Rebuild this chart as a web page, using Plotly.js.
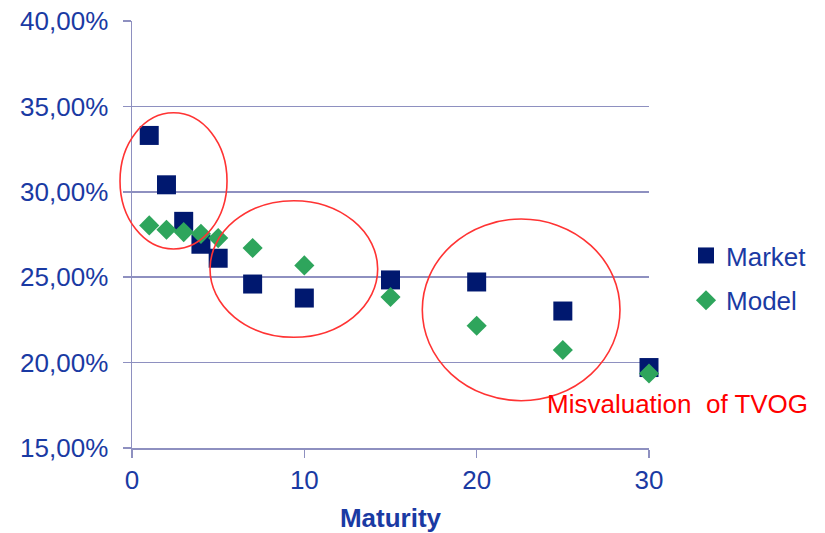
<!DOCTYPE html>
<html>
<head>
<meta charset="utf-8">
<script src="https://cdn.plot.ly/plotly-3.0.1.min.js"></script>
<style>
  html, body { margin: 0; padding: 0; background: #ffffff; }
  #chart { width: 825px; height: 533px; }
</style>
</head>
<body>
<div id="chart"></div>
<script>
// Implied volatility by maturity (years), in percent
const maturities = [1, 2, 3, 4, 5, 7, 10, 15, 20, 25, 30];
const marketVol = [33.30, 30.41, 28.27, 26.93, 26.11, 24.60, 23.78, 24.84, 24.72, 23.02, 19.71];
const modelVol  = [28.03, 27.78, 27.64, 27.54, 27.29, 26.71, 25.69, 23.84, 22.16, 20.74, 19.36];

const yTicks = [15, 20, 25, 30, 35, 40];
const yTickLabels = ['15,00%', '20,00%', '25,00%', '30,00%', '35,00%', '40,00%'];
const xTicks = [0, 10, 20, 30];

const labelBlue = '#1a3aa3';
const gridColor = '#8e90c0';
const fontFamily = 'Arial, "Liberation Sans", sans-serif';

const traces = [
  {
    type: 'scatter', mode: 'markers', name: 'Market',
    x: maturities, y: marketVol,
    legendgroup: 'a', cliponaxis: false,
    marker: { symbol: 'square', size: 19, color: '#00186f', line: { width: 0 } }
  },
  {
    type: 'scatter', mode: 'markers', name: 'Model',
    x: maturities, y: modelVol,
    legendgroup: 'b', cliponaxis: false,
    marker: { symbol: 'diamond', size: 15.5, color: '#2ea55c', line: { width: 0 } }
  }
];

// Highlighted regions where the model misprices the options
const ringStyle = { color: '#ff3333', width: 1.6 };
const shapes = [
  { type: 'circle', xref: 'paper', yref: 'paper', x0: -0.0232, x1: 0.1838, y0: 0.466, y1: 0.785, line: ringStyle },
  { type: 'circle', xref: 'paper', yref: 'paper', x0: 0.1509, x1: 0.4752, y0: 0.2593, y1: 0.5792, line: ringStyle },
  { type: 'circle', xref: 'paper', yref: 'paper', x0: 0.5615, x1: 0.9439, y0: 0.1108, y1: 0.5363, line: ringStyle }
];

const layout = {
  width: 825, height: 533,
  margin: { l: 132, r: 176, t: 21, b: 85 },
  paper_bgcolor: '#ffffff', plot_bgcolor: '#ffffff',
  font: { family: fontFamily, size: 26, color: labelBlue },
  showlegend: true,
  legend: {
    x: 1.0716, xanchor: 'left', y: 0.398, yanchor: 'middle',
    font: { family: fontFamily, size: 26, color: labelBlue },
    traceorder: 'grouped', tracegroupgap: 8,
    bgcolor: 'rgba(0,0,0,0)', borderwidth: 0
  },
  xaxis: {
    range: [0, 30], tickvals: xTicks, ticktext: xTicks.map(String),
    showgrid: false, zeroline: false,
    showline: true, linecolor: gridColor, linewidth: 1.5,
    ticks: 'outside', ticklen: 8, tickcolor: gridColor, tickwidth: 1.5,
    tickfont: { family: fontFamily, size: 26, color: labelBlue },
    title: { text: '<b>Maturity</b>', font: { family: fontFamily, size: 26, color: labelBlue }, standoff: 15 }
  },
  yaxis: {
    range: [15, 40], tickvals: yTicks, ticktext: yTickLabels,
    showgrid: true, gridcolor: gridColor, gridwidth: 1.5,
    zeroline: false,
    showline: true, linecolor: gridColor, linewidth: 1.5,
    ticks: 'outside', ticklen: 8, tickcolor: gridColor, tickwidth: 1.5,
    ticklabelstandoff: 9,
    tickfont: { family: fontFamily, size: 26, color: labelBlue }
  },
  shapes: shapes,
  annotations: [
    {
      xref: 'paper', yref: 'paper', x: 0.799, y: 0.103,
      xanchor: 'left', yanchor: 'middle', showarrow: false,
      text: 'Misvaluation\u00a0 of TVOG',
      font: { family: fontFamily, size: 26, color: '#ff0000' }
    }
  ]
};

Plotly.newPlot('chart', traces, layout, { displayModeBar: false, staticPlot: true });
</script>
</body>
</html>
